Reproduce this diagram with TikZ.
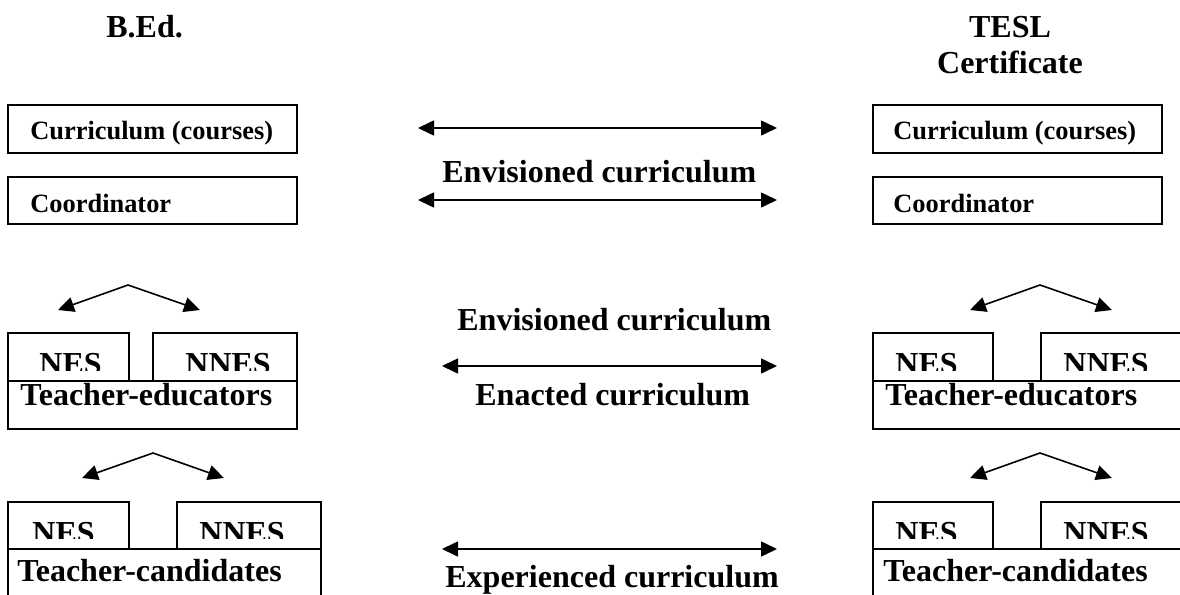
\documentclass[tikz,border=0pt]{standalone}
\usepackage{fontspec}
\setmainfont{Liberation Serif}
\usetikzlibrary{arrows.meta, positioning}

\tikzset{
    box/.style={draw, line width=0.75pt},
    bigtext/.style={font=\fontsize{16}{19}\selectfont\bfseries, inner sep=0pt, anchor=base west},
    smalltext/.style={font=\fontsize{13.2}{16}\selectfont\bfseries, inner sep=0pt, anchor=base west},
    biarrow/.style={{Triangle[length=8pt,width=7.5pt]}-{Triangle[length=8pt,width=7.5pt]}, line width=0.8pt},
}

\begin{document}
\begin{tikzpicture}[x=0.5pt, y=-0.5pt]
    \clip (0,0) rectangle (1180,595);
    \useasboundingbox (0,0) rectangle (1180,595);

    % Titles
    \node[bigtext] (bed) at (106,37) {B.Ed.};
    \node[bigtext, anchor=base] (tesl) at (1010,37) {TESL};
    \node[bigtext, anchor=base] (cert) at (1010,73) {Certificate};

    % Curriculum and coordinator boxes
    \draw[box] (8,105) rectangle (297,153);
    \node[smalltext] (currL) at (30,139) {Curriculum (courses)};
    \draw[box] (8,177) rectangle (297,224);
    \node[smalltext] (coordL) at (30,212) {Coordinator};

    \draw[box] (873,105) rectangle (1162,153);
    \node[smalltext] (currR) at (893,139) {Curriculum (courses)};
    \draw[box] (873,177) rectangle (1162,224);
    \node[smalltext] (coordR) at (893,212) {Coordinator};

    % Middle arrows and labels
    \coordinate (e1L) at (418,128);
    \coordinate (e1R) at (777,128);
    \draw[biarrow] (e1L) -- (e1R);
    \node[bigtext] (env1) at (442,182) {Envisioned curriculum};
    \coordinate (e2L) at (418,200);
    \coordinate (e2R) at (777,200);
    \draw[biarrow] (e2L) -- (e2R);

    \node[bigtext] (env2) at (457,330) {Envisioned curriculum};
    \coordinate (e3L) at (442,366);
    \coordinate (e3R) at (777,366);
    \draw[biarrow] (e3L) -- (e3R);
    \node[bigtext] (enact) at (475,405) {Enacted curriculum};

    \coordinate (e4L) at (442,549);
    \coordinate (e4R) at (777,549);
    \draw[biarrow] (e4L) -- (e4R);
    \node[bigtext] (exper) at (445,587) {Experienced curriculum};

    % Teacher-educators, B.Ed.
    \coordinate (apTL) at (128,285);
    \coordinate (ltTL) at (58,310);
    \coordinate (rtTL) at (200,310);
    \draw[biarrow] (ltTL) -- (apTL) -- (rtTL);
    \draw[box] (8,333) rectangle (129,381);
    \draw[box] (153,333) rectangle (297,381);
    \begin{scope}
        \clip (8,333) rectangle (297,370);
        \node[bigtext] (nesTL) at (39,374) {NES};
        \node[bigtext] (nnesTL) at (185,374) {NNES};
    \end{scope}
    \draw[box] (8,381) rectangle (297,429);
    \node[bigtext] (teL) at (20,405) {Teacher-educators};

    % Teacher-educators, TESL
    \coordinate (apTR) at (1040,285);
    \coordinate (ltTR) at (970,310);
    \coordinate (rtTR) at (1112,310);
    \draw[biarrow] (ltTR) -- (apTR) -- (rtTR);
    \draw[box] (873,333) rectangle (993,381);
    \draw[box] (1041,333) rectangle (1200,381);
    \begin{scope}
        \clip (873,333) rectangle (1200,370);
        \node[bigtext] (nesTR) at (895,374) {NES};
        \node[bigtext] (nnesTR) at (1063,374) {NNES};
    \end{scope}
    \draw[box] (873,381) rectangle (1200,429);
    \node[bigtext] (teR) at (885,405) {Teacher-educators};

    % Teacher-candidates, B.Ed.
    \coordinate (apCL) at (153,453);
    \coordinate (ltCL) at (82,478);
    \coordinate (rtCL) at (224,478);
    \draw[biarrow] (ltCL) -- (apCL) -- (rtCL);
    \draw[box] (8,502) rectangle (129,549);
    \draw[box] (177,502) rectangle (321,549);
    \begin{scope}
        \clip (8,502) rectangle (321,538);
        \node[bigtext] (nesCL) at (32,543) {NES};
        \node[bigtext] (nnesCL) at (199,543) {NNES};
    \end{scope}
    \draw[box] (8,549) rectangle (321,620);
    \node[bigtext] (tcL) at (17,581) {Teacher-candidates};

    % Teacher-candidates, TESL
    \coordinate (apCR) at (1040,453);
    \coordinate (ltCR) at (970,478);
    \coordinate (rtCR) at (1112,478);
    \draw[biarrow] (ltCR) -- (apCR) -- (rtCR);
    \draw[box] (873,502) rectangle (993,549);
    \draw[box] (1041,502) rectangle (1200,549);
    \begin{scope}
        \clip (873,502) rectangle (1200,538);
        \node[bigtext] (nesCR) at (895,543) {NES};
        \node[bigtext] (nnesCR) at (1063,543) {NNES};
    \end{scope}
    \draw[box] (873,549) rectangle (1200,620);
    \node[bigtext] (tcR) at (883,581) {Teacher-candidates};
\end{tikzpicture}
\end{document}
